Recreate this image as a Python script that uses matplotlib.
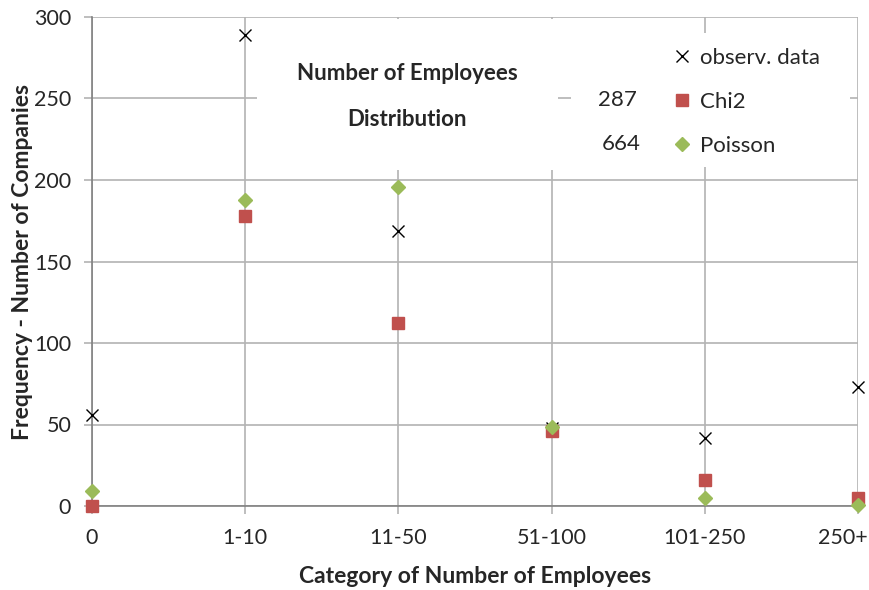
import matplotlib
matplotlib.use("Agg")
import matplotlib.pyplot as plt
import matplotlib.transforms as mtransforms
from matplotlib.patches import Rectangle
from matplotlib.lines import Line2D

plt.rcParams['font.family'] = ['Lato', 'DejaVu Sans']

categories = ["0", "1-10", "11-50", "51-100", "101-250", "250+"]
observed = [56, 289, 169, 48, 42, 73]
chi2 = [0, 178, 112, 46, 16, 5]
poisson = [9, 188, 196, 48.5, 5, 0.5]
chi2Value = "287"
poissonValue = "664"

gridColor = "#b3b3b3"
axisColor = "#808080"
textColor = "#262626"
chiColor = "#C0504D"
poissonColor = "#9BBB59"

figure = plt.figure(figsize=(8.69, 5.9), dpi=100)
axes = figure.add_axes([92/869, 1 - 506/590, (858-92)/869, (506-17)/590])

xs = list(range(len(categories)))

axes.set_xlim(0, len(categories) - 1)
axes.set_ylim(0, 300)
axes.set_xticks(xs)
axes.set_xticklabels(categories)
axes.set_yticks(range(0, 301, 50))

axes.grid(True, color=gridColor, linewidth=1.2)
axes.set_axisbelow(True)

for side in ["top", "right"]:
    axes.spines[side].set_visible(False)
for side in ["left", "bottom"]:
    axes.spines[side].set_color(axisColor)
    axes.spines[side].set_linewidth(1.2)
    axes.spines[side].set_zorder(0.8)

axes.tick_params(axis="both", length=6, width=1.2, color=gridColor,
                 labelsize=15.5, labelcolor=textColor)
axes.tick_params(axis="y", pad=9)
axes.tick_params(axis="x", pad=10)

# last tick label is pushed inside the figure, like the original
lastLabel = axes.get_xticklabels()[-1]
lastLabel.set_horizontalalignment("right")
lastLabel.set_transform(lastLabel.get_transform() +
                        mtransforms.ScaledTranslation(10 / 100, 0, figure.dpi_scale_trans))

# white boxes behind the title and the legend (they hide the grid)
toPixX = lambda px: (px - 92) / (858 - 92) * 5
toPixY = lambda py: (506 - py) / (506 - 17) * 300
axes.add_patch(Rectangle((toPixX(257), toPixY(170)), toPixX(558) - toPixX(257),
                         toPixY(19) - toPixY(170), facecolor="white",
                         edgecolor="none", zorder=1))
axes.add_patch(Rectangle((toPixX(571), toPixY(167)), toPixX(850) - toPixX(571),
                         toPixY(33) - toPixY(167), facecolor="white",
                         edgecolor="none", zorder=1))

axes.plot(xs, observed, linestyle="none", marker="x", markersize=8.5,
          markeredgewidth=1.0, color="black", clip_on=False, zorder=3)
axes.plot(xs, chi2, linestyle="none", marker="s", markersize=8.5,
          color=chiColor, clip_on=False, zorder=3)
axes.plot(xs, poisson, linestyle="none", marker="D", markersize=7.5,
          color=poissonColor, clip_on=False, zorder=4)

axes.text(407 / 869, 1 - 74 / 590, "Number of Employees", transform=figure.transFigure,
          ha="center", va="center", fontsize=16, fontweight="bold", color=textColor)
axes.text(407 / 869, 1 - 119 / 590, "Distribution", transform=figure.transFigure,
          ha="center", va="center", fontsize=16, fontweight="bold", color=textColor)

axes.text(637 / 869, 1 - 100 / 590, chi2Value, transform=figure.transFigure,
          ha="right", va="center", fontsize=16, color=textColor)
axes.text(641 / 869, 1 - 144 / 590, poissonValue, transform=figure.transFigure,
          ha="right", va="center", fontsize=16, color=textColor)

handles = [
    Line2D([], [], linestyle="none", marker="x", markersize=8.5, markeredgewidth=1.0, color="black"),
    Line2D([], [], linestyle="none", marker="s", markersize=8, color=chiColor),
    Line2D([], [], linestyle="none", marker="D", markersize=7, color=poissonColor),
]
axes.legend(handles, ["observ. data", "Chi2", "Poisson"], loc="upper left",
            bbox_to_anchor=(660 / 869, 1 - 37 / 590), bbox_transform=figure.transFigure,
            frameon=False, fontsize=16, handlelength=1.0, handletextpad=0.3,
            labelspacing=1.07, borderpad=0, labelcolor=textColor)

axes.set_xlabel("Category of Number of Employees", fontsize=16.5, fontweight="bold",
                color=textColor, labelpad=13)
axes.set_ylabel("Frequency - Number of Companies", fontsize=16.5, fontweight="bold",
                color=textColor, labelpad=1)

figure.savefig("out.png", dpi=100)
